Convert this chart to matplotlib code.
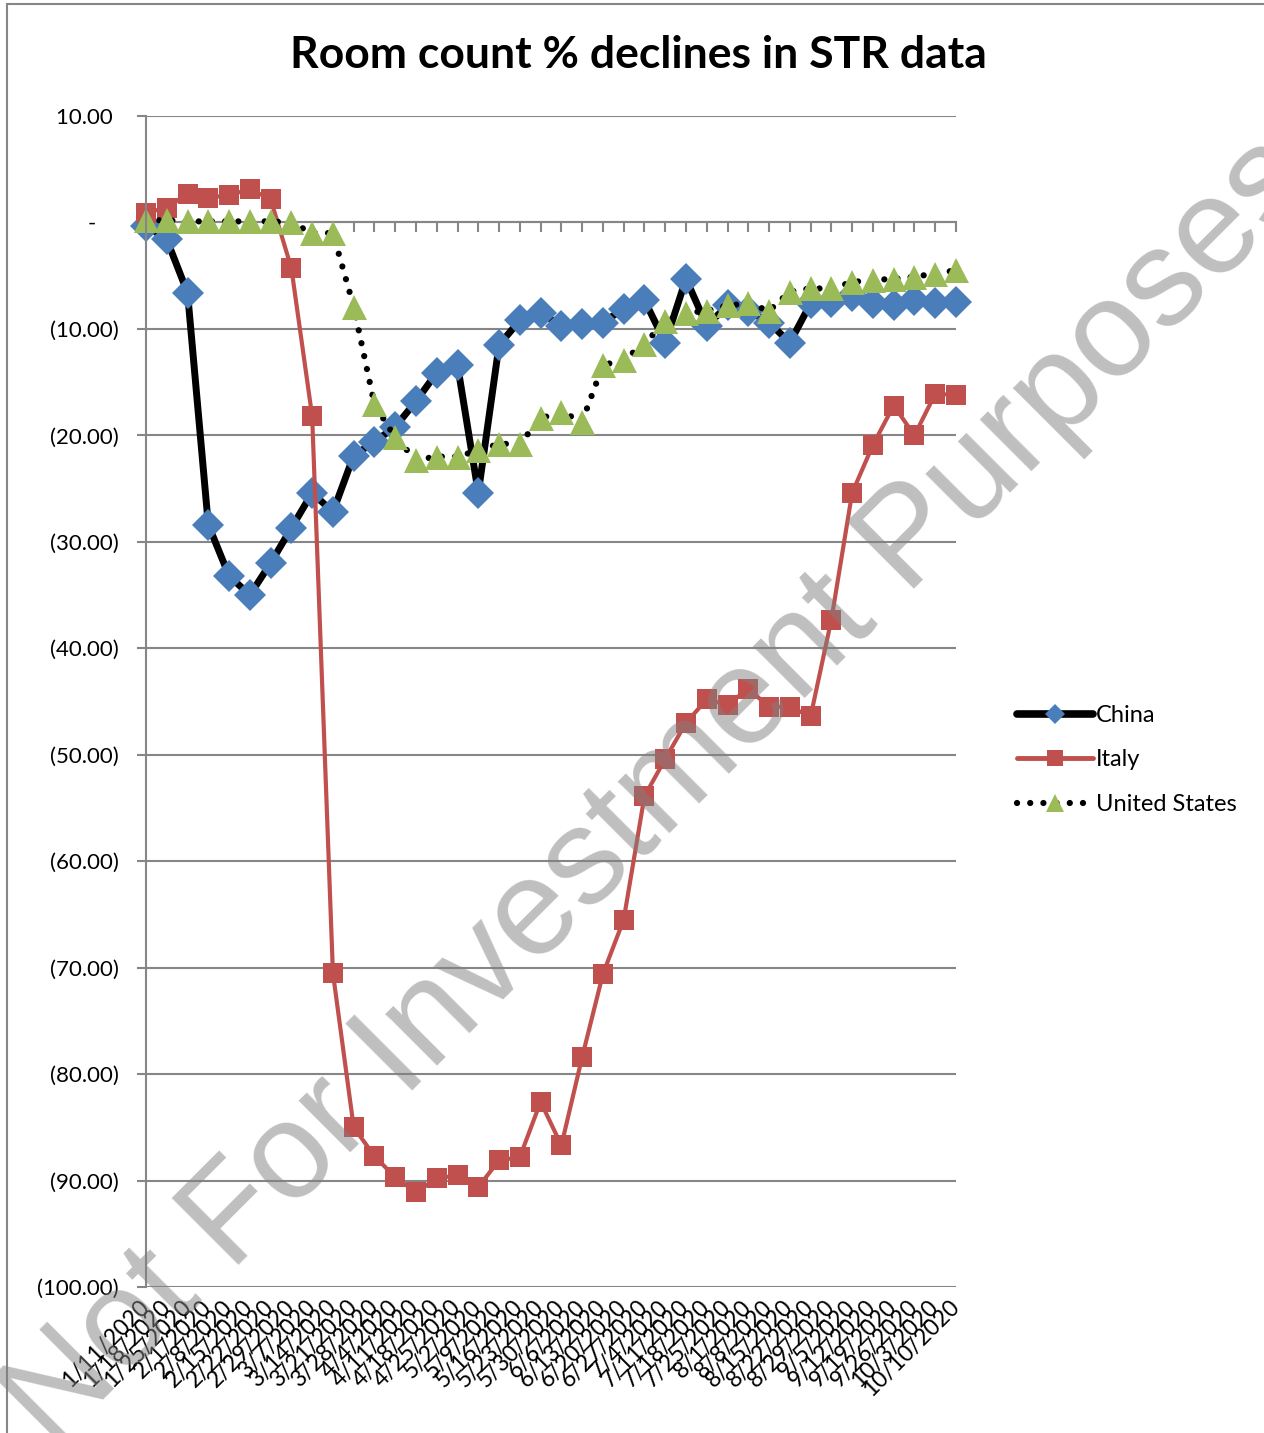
import matplotlib
matplotlib.use("Agg")
import matplotlib.pyplot as plt
from matplotlib.lines import Line2D
from matplotlib.patches import Rectangle

# weekly STR room count change (%)
weeks = ["1/11/2020", "1/18/2020", "1/25/2020", "2/1/2020", "2/8/2020", "2/15/2020",
         "2/22/2020", "2/29/2020", "3/7/2020", "3/14/2020", "3/21/2020", "3/28/2020",
         "4/4/2020", "4/11/2020", "4/18/2020", "4/25/2020", "5/2/2020", "5/9/2020",
         "5/16/2020", "5/23/2020", "5/30/2020", "6/6/2020", "6/13/2020", "6/20/2020",
         "6/27/2020", "7/4/2020", "7/11/2020", "7/18/2020", "7/25/2020", "8/1/2020",
         "8/8/2020", "8/15/2020", "8/22/2020", "8/29/2020", "9/5/2020", "9/12/2020",
         "9/19/2020", "9/26/2020", "10/3/2020", "10/10/2020"]

china = [-0.3, -1.6, -6.6, -28.4, -33.2, -35.0, -32.0, -28.7, -25.4, -27.2,
         -21.9, -20.6, -19.2, -16.8, -14.1, -13.4, -25.4, -11.5, -9.2, -8.5,
         -9.7, -9.5, -9.4, -8.1, -7.3, -11.3, -5.3, -9.7, -7.8, -8.3,
         -9.4, -11.3, -7.6, -7.5, -6.9, -7.6, -7.8, -7.3, -7.6, -7.5]

italy = [0.9, 1.4, 2.7, 2.3, 2.6, 3.1, 2.2, -4.3, -18.2, -70.5,
         -85.0, -87.7, -89.7, -91.1, -89.8, -89.5, -90.6, -88.1, -87.8, -82.6,
         -86.7, -78.4, -70.6, -65.5, -53.9, -50.4, -47.0, -44.8, -45.3, -43.8,
         -45.5, -45.5, -46.4, -37.3, -25.4, -20.9, -17.2, -20.0, -16.1, -16.2]

united_states = [0.2, 0.2, 0.1, 0.1, 0.1, 0.1, 0.1, 0.0, -1.0, -1.0,
                 -7.9, -17.1, -20.2, -22.3, -22.0, -22.0, -21.4, -20.8, -20.8, -18.4,
                 -17.8, -18.7, -13.4, -12.9, -11.4, -9.3, -8.5, -8.3, -7.8, -7.6,
                 -8.3, -6.5, -6.2, -6.2, -5.6, -5.4, -5.3, -5.1, -4.8, -4.5]

y_ticks = [10, 0, -10, -20, -30, -40, -50, -60, -70, -80, -90, -100]
y_tick_labels = ["10.00 ", "-    ", "(10.00)", "(20.00)", "(30.00)", "(40.00)",
                 "(50.00)", "(60.00)", "(70.00)", "(80.00)", "(90.00)", "(100.00)"]

blue = "#4a7ebb"
red = "#c0504d"
green = "#9bbb59"
grey = "#868686"

plt.rcParams['font.family'] = ['Lato', 'DejaVu Sans']

fig = plt.figure(figsize=(12.64, 14.33), dpi=100)
ax = fig.add_axes([146/1264, 1 - 1287/1433, 810/1264, 1171/1433])
x = list(range(len(weeks)))

ax.plot(x, china, color='black', lw=5, marker='D', ms=16, mfc=blue, mew=0,
        solid_joinstyle='round', clip_on=False, label='China')
ax.plot(x, italy, color=red, lw=3, marker='s', ms=14, mfc=red, mew=0,
        clip_on=False, label='Italy')
ax.plot(x, united_states, color='black', lw=4.5, ls=(0, (0.01, 2.1)), dash_capstyle='round',
        marker='^', ms=18, mfc=green, mew=0, clip_on=False, label='United States')

ax.set_xlim(0, len(weeks) - 1)
ax.set_ylim(-100, 10)
ax.set_yticks(y_ticks, y_tick_labels)
ax.yaxis.grid(True, color=grey, lw=1.5)
ax.set_axisbelow(True)
for s in ['top', 'right', 'bottom']:
    ax.spines[s].set_visible(False)
ax.spines['left'].set_color(grey)
ax.spines['left'].set_linewidth(1.5)
ax.tick_params(axis='y', direction='out', length=6.5, width=1.5, color=grey, pad=13, labelsize=16)
ax.set_xticks(x, weeks, rotation=45, ha='right', va='center', rotation_mode='anchor')
ax.tick_params(axis='x', length=0, pad=12, labelsize=16.5)

# horizontal axis crosses at zero, tick marks hang below it
sec = ax.secondary_xaxis(100/110)
sec.set_xticks(x)
sec.tick_params(direction='in', length=7, width=1.5, color=grey, labeltop=False, labelbottom=False)
sec.spines['top'].set_color(grey)
sec.spines['top'].set_linewidth(1.5)

fig.text(638/1264, 1 - 55/1433, "Room count % declines in STR data", ha='center', va='center',
         fontsize=32, fontweight='bold')

handles = [
    Line2D([], [], color='black', lw=5.5, solid_capstyle='round', marker='D', ms=10, mfc=blue, mew=0),
    Line2D([], [], color=red, lw=3.5, solid_capstyle='round', marker='s', ms=12, mfc=red, mew=0),
    Line2D([], [], color='black', lw=4.5, ls=(0, (0.01, 2.1)), dash_capstyle='round',
           marker='^', ms=13, mfc=green, mew=0),
]
fig.legend(handles, ['China', 'Italy', 'United States'], loc='center left',
           bbox_to_anchor=(1017/1264, 1 - 760/1433), frameon=False, fontsize=17,
           handlelength=3.2, handletextpad=0.15, labelspacing=1.0, borderpad=0,
           borderaxespad=0, numpoints=1)

# chart area border
fig.add_artist(Rectangle((7/1264, -0.1), 1.2, 1.1 - 4/1433, transform=fig.transFigure,
                         fill=False, ec=grey, lw=1.5))

# watermark
fig.text(0.522, 0.447, "Not For Investment Purposes", rotation=45, ha='center', va='center',
         fontsize=99, color='#808080', alpha=0.5, family=['Liberation Sans', 'DejaVu Sans'],
         zorder=10)

fig.savefig("out.png", dpi=100)
